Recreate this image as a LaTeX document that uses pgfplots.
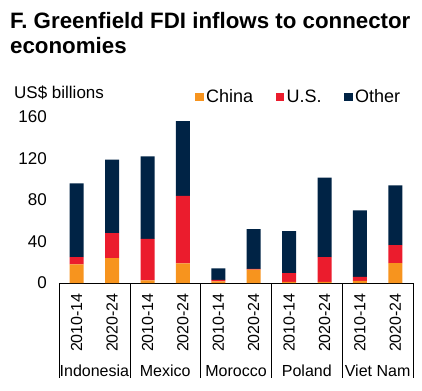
\documentclass[border=0pt]{standalone}
\usepackage{pgfplots}
\pgfplotsset{compat=1.18}
\usepackage{pgfplotstable}
\usepackage{fontspec}
\setmainfont{Liberation Sans}
\definecolor{cOrange}{HTML}{F7941E}
\definecolor{cRed}{HTML}{EB1C2D}
\definecolor{cNavy}{HTML}{002345}
\pgfplotstableread{
x    china us   other
0.5  18    7    71
1.5  24    24   71
2.5  2.5   40   79.5
3.5  19    65   72
4.5  1.5   1.5  11
5.5  13    0.5  38.5
6.5  1     8.6  40.4
7.5  1     24   76.6
8.5  2     3.8  64.2
9.5  19.2  17.3 57.5
}\datatable
\begin{document}
\begin{tikzpicture}
\path[use as bounding box] (-59pt,-107pt) rectangle (363pt,283pt);
\begin{axis}[
  scale only axis,
  width=354pt, height=166pt,
  xmin=0, xmax=10, ymin=0, ymax=160,
  ybar stacked, bar width=14pt,
  clip=false,
  axis lines*=left,
  axis line style={-},
  y axis line style={draw=none},
  x axis line style={black, line width=0.6pt},
  ytick={0,40,80,120,160},
  xtick={0.5,1.5,...,9.5},
  xticklabels={2010-14,2020-24,2010-14,2020-24,2010-14,2020-24,2010-14,2020-24,2010-14,2020-24},
  x tick label style={rotate=90, anchor=east, inner sep=0pt, font=\fontsize{16}{19}\selectfont},
  xticklabel shift=10pt,
  y tick label style={anchor=east, inner sep=0pt, font=\fontsize{17}{20}\selectfont},
  yticklabel shift=12pt,
  major tick length=0pt,
  tick style={draw=none},
  /pgf/number format/assume math mode=true,
  legend columns=3,
  legend style={at={(0.384,1.12)}, anchor=west, draw=none, fill=none, inner sep=0pt,
    font=\fontsize{18}{21}\selectfont,
    nodes={inner sep=2.5pt},
    /tikz/every even column/.append style={column sep=20pt}},
  legend image code/.code={\fill[#1] (0pt,-4.2pt) rectangle (8.5pt,4.2pt);},
]
\addplot[fill=cOrange, draw=none] table[x=x, y=china] {\datatable};
\addplot[fill=cRed, draw=none] table[x=x, y=us] {\datatable};
\addplot[fill=cNavy, draw=none] table[x=x, y=other] {\datatable};
\legend{China, U.S., Other}
\pgfplotsinvokeforeach{0,2,4,6,8,10}{
  \draw[black, line width=0.6pt] (axis cs:#1,0) -- ++(0,-95pt);
}
\node[anchor=base, yshift=-93pt, font=\fontsize{16}{19}\selectfont] at (axis cs:1,0) {Indonesia};
\node[anchor=base, yshift=-93pt, font=\fontsize{16}{19}\selectfont] at (axis cs:3,0) {Mexico};
\node[anchor=base, yshift=-93pt, font=\fontsize{16}{19}\selectfont] at (axis cs:5,0) {Morocco};
\node[anchor=base, yshift=-93pt, font=\fontsize{16}{19}\selectfont] at (axis cs:7,0) {Poland};
\node[anchor=base, yshift=-93pt, font=\fontsize{16}{19}\selectfont] at (axis cs:9,0) {Viet Nam};
\end{axis}
\node[anchor=base west, inner sep=0pt, font=\fontsize{17}{20}\selectfont] at (-45pt,184pt) {US\$ billions};
\node[anchor=base west, inner sep=0pt, font=\fontsize{22.3}{25}\selectfont\bfseries] at (-49pt,254pt) {F. Greenfield FDI inflows to connector};
\node[anchor=base west, inner sep=0pt, font=\fontsize{22.3}{25}\selectfont\bfseries] at (-49pt,229pt) {economies};
\end{tikzpicture}
\end{document}
